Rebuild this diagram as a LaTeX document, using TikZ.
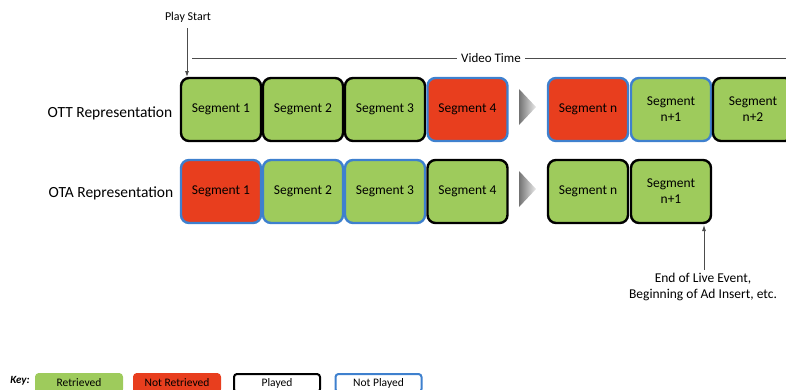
\documentclass[tikz,border=0pt]{standalone}
\usepackage{fontspec}
\setmainfont{Carlito}
\usetikzlibrary{arrows.meta}
\definecolor{retr}{RGB}{158,203,92}
\definecolor{notretr}{RGB}{232,62,30}
\definecolor{notplayed}{RGB}{62,128,206}
\tikzset{
  seg/.style={rounded corners=8pt, line width=2.4pt, minimum width=80pt, minimum height=63pt,
    inner sep=0pt, align=center, font=\fontsize{13.5}{16}\selectfont},
  played/.style={draw=black},
  unplayed/.style={draw=notplayed},
  got/.style={fill=retr},
  lost/.style={fill=notretr},
  rowlabel/.style={font=\fontsize{15.5}{18}\selectfont, anchor=center},
  note/.style={font=\fontsize{12}{14}\selectfont, align=center},
  keybox/.style={rounded corners=3pt, line width=2pt, minimum width=86pt, minimum height=18pt,
    inner sep=0pt, font=\fontsize{11.5}{13}\selectfont, anchor=north},
  tip/.style={-{Latex[length=6pt,width=4pt]}, line width=0.8pt, draw=black!70},
}
\begin{document}
\begin{tikzpicture}[x=1pt,y=-1pt]
\useasboundingbox (0,0) rectangle (786,389);
\clip (0,0) rectangle (786,389);

% play start marker
\node[note] (ps) at (188,17) {Play Start};
\coordinate (pstop) at (187,28);
\coordinate (psend) at (187,77);
\draw[tip] (pstop) -- (psend);

% video time axis
\node[note, font=\fontsize{13}{15}\selectfont, inner sep=4pt] (vt) at (491,58) {Video Time};
\coordinate (vtl) at (192,58);
\coordinate (vtr) at (786,58);
\draw[line width=0.8pt, black!70] (vtl) -- (vt.west);
\draw[line width=0.8pt, black!70] (vt.east) -- (vtr);

% OTT row
\node[rowlabel] (ott) at (110,113) {OTT Representation};
\node[seg, got, played]   (a1) at (221,109.5) {Segment 1};
\node[seg, got, played]   (a2) at (303,109.5) {Segment 2};
\node[seg, got, played]   (a3) at (385,109.5) {Segment 3};
\node[seg, lost, unplayed](a4) at (467.5,109.5) {Segment 4};
\node[seg, lost, unplayed](an) at (588,109.5) {Segment n};
\node[seg, got, unplayed] (an1) at (671,109.5) {Segment\\n+1};
\node[seg, got, played]   (an2) at (753,109.5) {Segment\\n+2};

% OTA row
\node[rowlabel] (ota) at (111,193) {OTA Representation};
\node[seg, lost, unplayed](b1) at (221,191.5) {Segment 1};
\node[seg, got, unplayed] (b2) at (303,191.5) {Segment 2};
\node[seg, got, unplayed] (b3) at (385,191.5) {Segment 3};
\node[seg, got, played]   (b4) at (467.5,191.5) {Segment 4};
\node[seg, got, played]   (bn) at (588,191.5) {Segment n};
\node[seg, got, played]   (bn1) at (671,191.5) {Segment\\n+1};

% gap markers
\shade[left color=black!55, right color=black!8] (519,89) -- (536,107) -- (519,125) -- cycle;
\shade[left color=black!55, right color=black!8] (519,171) -- (536,189) -- (519,207) -- cycle;

% end of live event marker
\node[note, font=\fontsize{13.5}{16}\selectfont] (eol) at (703,287) {End of Live Event,\\Beginning of Ad Insert, etc.};
\coordinate (eoltop) at (704,225);
\draw[tip] (eol.north -| eoltop) -- (eoltop);

% key
\node[font=\bfseries\itshape\fontsize{11}{13}\selectfont] (key) at (20,381) {Key:};
\node[keybox, fill=retr, draw=retr] (k1) at (79,373) {Retrieved};
\node[keybox, fill=notretr, draw=notretr] (k2) at (177,373) {Not Retrieved};
\node[keybox, draw=black] (k3) at (277,373) {Played};
\node[keybox, draw=notplayed] (k4) at (378.5,373) {Not Played};
\end{tikzpicture}
\end{document}
